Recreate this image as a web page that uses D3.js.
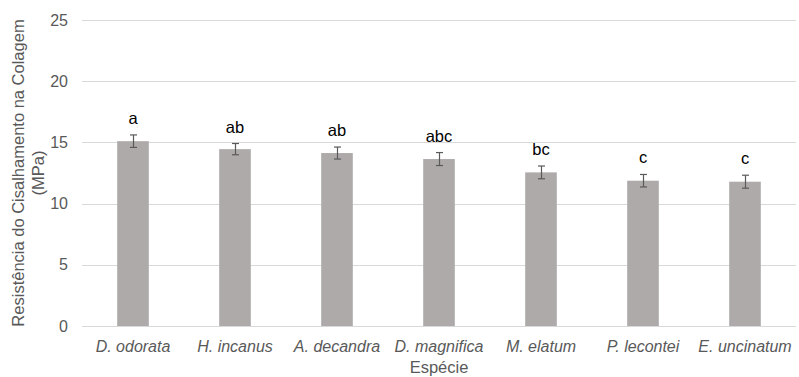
<!DOCTYPE html>
<html>
<head>
<meta charset="utf-8">
<script src="https://cdn.jsdelivr.net/npm/d3@7"></script>
<style>
  html, body { margin: 0; padding: 0; background: #fff; }
  svg { display: block; font-family: "Liberation Sans", Arial, sans-serif; }
</style>
</head>
<body>
<svg id="chart" width="799" height="377"></svg>
<script>
// Species (x categories)
const species = ["D. odorata", "H. incanus", "A. decandra", "D. magnifica", "M. elatum", "P. lecontei", "E. uncinatum"];
// Mean glue-line shear strength (MPa)
const means = [15.1, 14.45, 14.13, 13.64, 12.55, 11.87, 11.79];
// Error bar half-lengths (MPa)
const errors = [0.51, 0.46, 0.49, 0.53, 0.52, 0.51, 0.53];
// Significance letters
const groups = ["a", "ab", "ab", "abc", "bc", "c", "c"];
// Y axis ticks
const yTicks = [0, 5, 10, 15, 20, 25];

const svg = d3.select("#chart");
const margin = { left: 82, right: 3, top: 20, bottom: 51 };
const W = 799, H = 377;

const x = d3.scaleBand()
  .domain(species)
  .range([margin.left, W - margin.right])
  .paddingInner(0.69)
  .paddingOuter(0.345);

const y = d3.scaleLinear()
  .domain([0, 25])
  .range([H - margin.bottom, margin.top]);

const textColor = "#595959";
const fontSize = 16;

// Gridlines
svg.append("g")
  .selectAll("line")
  .data(yTicks)
  .join("line")
  .attr("x1", margin.left)
  .attr("x2", W - margin.right)
  .attr("y1", d => Math.round(y(d)) + 0.5)
  .attr("y2", d => Math.round(y(d)) + 0.5)
  .attr("stroke", "#d9d9d9")
  .attr("stroke-width", 1);

// Y axis tick labels
const yAxis = d3.axisLeft(y).tickValues(yTicks).tickSize(0).tickPadding(0);
const yg = svg.append("g")
  .attr("transform", `translate(${margin.left - 14},0)`)
  .call(yAxis);
yg.select(".domain").remove();
yg.selectAll("text")
  .attr("fill", textColor)
  .attr("font-size", fontSize)
  .attr("font-family", "Liberation Sans, Arial, sans-serif");

// Bars
svg.append("g")
  .selectAll("rect")
  .data(species)
  .join("rect")
  .attr("x", d => x(d))
  .attr("width", x.bandwidth())
  .attr("y", (d, i) => y(means[i]))
  .attr("height", (d, i) => y(0) - y(means[i]))
  .attr("fill", "#aeaaaa");

// Error bars
const eg = svg.append("g").attr("stroke", "#595959").attr("stroke-width", 1.2);
species.forEach((s, i) => {
  const cx = Math.round(x(s) + x.bandwidth() / 2) + 0.5;
  const y1 = y(means[i] + errors[i]);
  const y2 = y(means[i] - errors[i]);
  eg.append("line").attr("x1", cx).attr("x2", cx).attr("y1", y1).attr("y2", y2);
  eg.append("line").attr("x1", cx - 3.5).attr("x2", cx + 3.5).attr("y1", y1).attr("y2", y1);
  eg.append("line").attr("x1", cx - 3.5).attr("x2", cx + 3.5).attr("y1", y2).attr("y2", y2);
});

// Significance letters
svg.append("g")
  .selectAll("text")
  .data(species)
  .join("text")
  .attr("x", d => x(d) + x.bandwidth() / 2)
  .attr("y", (d, i) => y(means[i] + errors[i]) - 11)
  .attr("text-anchor", "middle")
  .attr("font-size", 16.5)
  .attr("fill", "#000")
  .text((d, i) => groups[i]);

// X axis category labels
const xAxis = d3.axisBottom(x).tickSize(0).tickPadding(0);
const xg = svg.append("g")
  .attr("transform", "translate(0,351.5)")
  .call(xAxis);
xg.select(".domain").remove();
xg.selectAll("text")
  .attr("y", 0)
  .attr("dy", null)
  .attr("fill", textColor)
  .attr("font-size", fontSize)
  .attr("font-style", "italic")
  .attr("font-family", "Liberation Sans, Arial, sans-serif");

// X axis title
svg.append("text")
  .attr("x", (margin.left + W - margin.right) / 2)
  .attr("y", 373)
  .attr("text-anchor", "middle")
  .attr("font-size", 16.5)
  .attr("fill", textColor)
  .text("Espécie");

// Y axis title (two lines)
const yt = svg.append("text")
  .attr("transform", `translate(0,${(y(0) + y(25)) / 2}) rotate(-90)`)
  .attr("text-anchor", "middle")
  .attr("font-size", 16.5)
  .attr("fill", textColor);
yt.append("tspan").attr("x", 0).attr("y", 24).text("Resistência do Cisalhamento na Colagem");
yt.append("tspan").attr("x", 0).attr("y", 44).text("(MPa)");
</script>
</body>
</html>
